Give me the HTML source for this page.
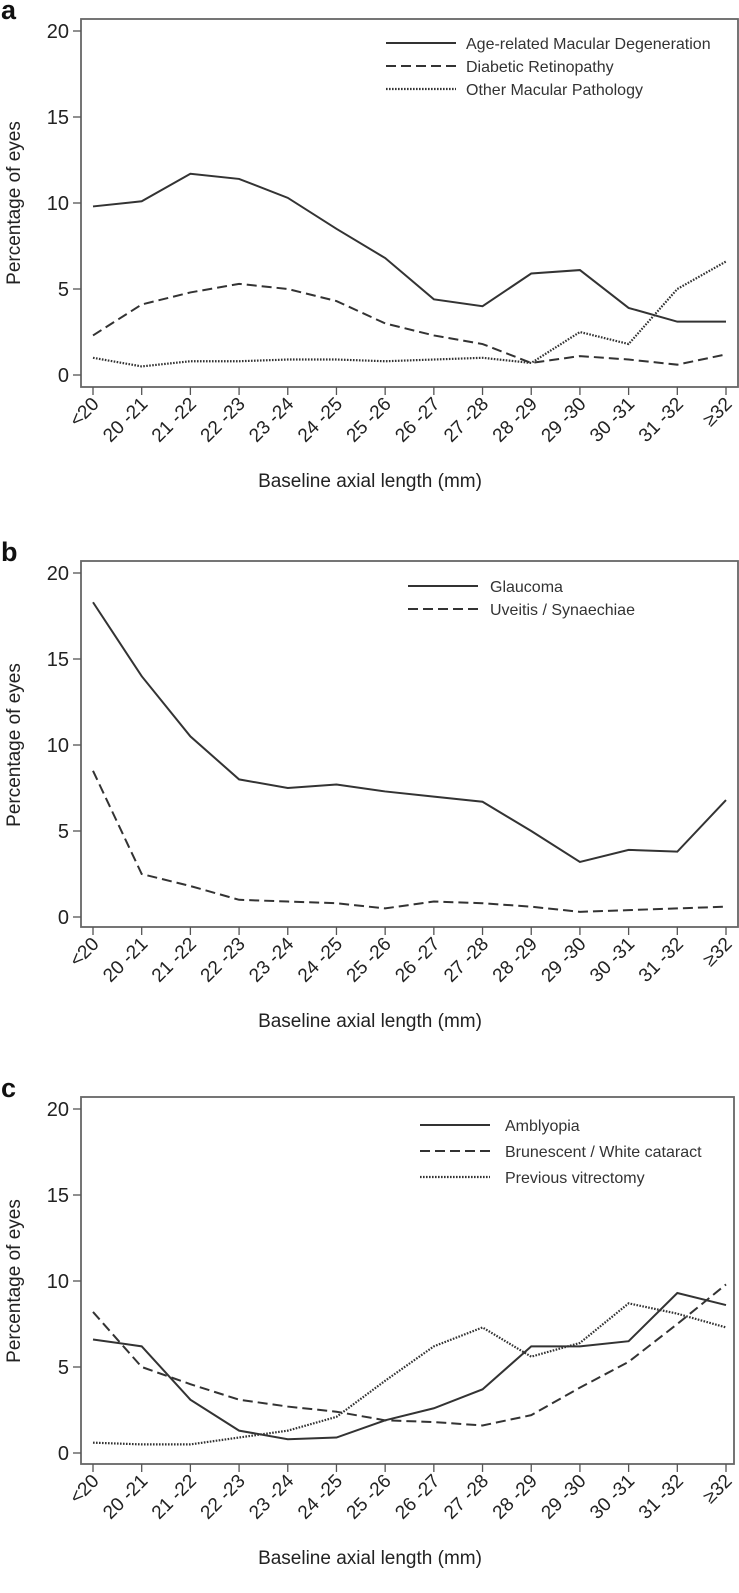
<!DOCTYPE html>
<html><head><meta charset="utf-8"><style>
html,body{margin:0;padding:0;background:#fff;}
svg{display:block;font-family:"Liberation Sans",Arial,sans-serif;}
</style></head><body>
<svg id="fig" width="739" height="1593" viewBox="0 0 739 1593" xmlns="http://www.w3.org/2000/svg"></svg>
<script>
const categories = ["<20","20 -21","21 -22","22 -23","23 -24","24 -25","25 -26","26 -27","27 -28","28 -29","29 -30","30 -31","31 -32","\u226532"];
const yTicks = [0,5,10,15,20];
const amdValues = [9.8,10.1,11.7,11.4,10.3,8.5,6.8,4.4,4.0,5.9,6.1,3.9,3.1,3.1];
const drValues = [2.3,4.1,4.8,5.3,5.0,4.3,3.0,2.3,1.8,0.7,1.1,0.9,0.6,1.2];
const otherMacValues = [1.0,0.5,0.8,0.8,0.9,0.9,0.8,0.9,1.0,0.7,2.5,1.8,5.0,6.6];
const glaucomaValues = [18.3,14.0,10.5,8.0,7.5,7.7,7.3,7.0,6.7,5.0,3.2,3.9,3.8,6.8];
const uveitisValues = [8.5,2.5,1.8,1.0,0.9,0.8,0.5,0.9,0.8,0.6,0.3,0.4,0.5,0.6];
const amblyopiaValues = [6.6,6.2,3.1,1.3,0.8,0.9,1.9,2.6,3.7,6.2,6.2,6.5,9.3,8.6];
const cataractValues = [8.2,5.0,4.0,3.1,2.7,2.4,1.9,1.8,1.6,2.2,3.8,5.3,7.5,9.8];
const vitrectomyValues = [0.6,0.5,0.5,0.9,1.3,2.1,4.2,6.2,7.3,5.6,6.4,8.7,8.1,7.3];

const NS="http://www.w3.org/2000/svg";
const svg=document.getElementById('fig');
function mk(tag,attrs,parent){const e=document.createElementNS(NS,tag);for(const k in attrs)e.setAttribute(k,attrs[k]);(parent||svg).appendChild(e);return e;}
const dashes={solid:null,dash:"10,5",dot:"1.6,1.4"};

function panel(letter,y20,boxTop,boxBottom,boxRight,series,legX,legTextX,legY,legGap){
  const g=mk('g',{});
  
  
  const x0=93,x1=726,y0=y20+344;
  const xs=i=>x0+(x1-x0)*i/(categories.length-1);
  const ys=v=>y0-(y0-y20)*v/20;
  const lab=mk('text',{x:1,y:y20-12,'font-size':27,'font-weight':'bold',fill:'#111'},g);lab.textContent=letter;
  
  const box=mk('rect',{x:81,y:boxTop,width:boxRight-81,height:boxBottom-boxTop,fill:'none',stroke:'#666','stroke-width':1.8},g);
  
  yTicks.forEach(t=>{
    const y=ys(t);
    mk('line',{x1:73,x2:81,y1:y,y2:y,stroke:'#555','stroke-width':1.3},g);
    const tx=mk('text',{x:69,y:y+7,'text-anchor':'end','font-size':20,fill:'#222'},g);tx.textContent=t;
    
  });
  categories.forEach((c,i)=>{
    const x=xs(i);
    mk('line',{x1:x,x2:x,y1:boxBottom,y2:boxBottom+8,stroke:'#555','stroke-width':1.3},g);
    const ax=x+7,ay=boxBottom+18;
    const tx=mk('text',{x:ax,y:ay,'text-anchor':'end','font-size':19,fill:'#222',transform:`rotate(-45 ${ax} ${ay})`},g);tx.textContent=c;
    
  });
  const yt=mk('text',{x:0,y:0,'text-anchor':'middle','font-size':19,fill:'#222',transform:`translate(20 ${(y20+y0)/2}) rotate(-90)`},g);yt.textContent='Percentage of eyes';
  
  const xt=mk('text',{x:370,y:boxBottom+100,'text-anchor':'middle','font-size':19,fill:'#222'},g);xt.textContent='Baseline axial length (mm)';
  
  series.forEach((s,k)=>{
    const p=mk('polyline',{points:s.values.map((v,i)=>xs(i)+','+ys(v)).join(' '),fill:'none',stroke:'#333','stroke-width':s.style==='dot'?2.2:2},g);
    if(dashes[s.style])p.setAttribute('stroke-dasharray',dashes[s.style]);
    
    const ly=legY+k*legGap;
    const l=mk('line',{x1:legX,x2:legX+70,y1:ly,y2:ly,stroke:'#333','stroke-width':s.style==='dot'?2.2:2},g);
    if(dashes[s.style])l.setAttribute('stroke-dasharray',dashes[s.style]);
    
    const t=mk('text',{x:legTextX,y:ly+6,'font-size':16,fill:'#333'},g);t.textContent=s.name;
    
  });
}
panel('a',31,19,387,738,[
  {id:'amd',name:'Age-related Macular Degeneration',values:amdValues,style:'solid'},
  {id:'dr',name:'Diabetic Retinopathy',values:drValues,style:'dash'},
  {id:'other-macular',name:'Other Macular Pathology',values:otherMacValues,style:'dot'}],386,466,43,23);
panel('b',573,561,927,738,[
  {id:'glaucoma',name:'Glaucoma',values:glaucomaValues,style:'solid'},
  {id:'uveitis',name:'Uveitis / Synaechiae',values:uveitisValues,style:'dash'}],408,490,586,23);
panel('c',1109,1097,1464,734,[
  {id:'amblyopia',name:'Amblyopia',values:amblyopiaValues,style:'solid'},
  {id:'cataract',name:'Brunescent / White cataract',values:cataractValues,style:'dash'},
  {id:'vitrectomy',name:'Previous vitrectomy',values:vitrectomyValues,style:'dot'}],420,505,1125,26);
</script>
</body></html>
